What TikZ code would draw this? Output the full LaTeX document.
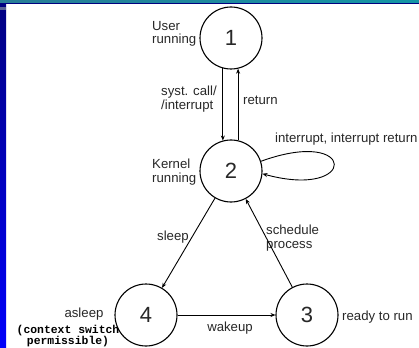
\documentclass[tikz,border=0pt]{standalone}
\usepackage{fontspec}
\setmainfont{Liberation Sans}
\setmonofont{Liberation Mono}
\definecolor{SlideNavy}{RGB}{0,0,128}
\definecolor{SlideBlue}{RGB}{0,0,250}
\definecolor{SlideTealA}{RGB}{40,125,150}
\definecolor{SlideTealB}{RGB}{30,190,205}
\definecolor{SlideTealC}{RGB}{20,150,165}
\definecolor{SlideGrey}{RGB}{90,100,150}
\definecolor{InkGrey}{RGB}{40,40,40}
\usetikzlibrary{arrows.meta, positioning}

\begin{document}
\begin{tikzpicture}[
  x=1pt, y=-1pt,
  state/.style={
    draw=black,
    circle,
    line width=1.1pt,
    minimum size=62pt,
    inner sep=0pt,
    font=\fontsize{22}{22}\selectfont,
    text=InkGrey
  },
  lbl/.style={
    inner sep=0pt,
    align=left,
    font=\fontsize{13.2}{13.5}\selectfont,
    text=InkGrey
  },
  monolbl/.style={
    inner sep=0pt,
    align=center,
    font=\ttfamily\bfseries\fontsize{11.4}{11}\selectfont
  },
  arrow/.style={-{Stealth[length=5pt, width=4pt]}, black, line width=0.9pt}
]

\useasboundingbox (0,0) rectangle (419,347);
\fill[white] (0,0) rectangle (419,347);
\shade[top color=SlideNavy, bottom color=SlideBlue] (0,0) rectangle (6,347);
\shade[left color=SlideTealA, middle color=SlideTealB, right color=SlideTealC] (0,0) rectangle (419,3);
\fill[SlideNavy] (0,3) rectangle (419,4.5);
\fill[SlideGrey] (0,7) rectangle (6,10);

\node[state] (n1) at (231,38) {1};
\node[state] (n2) at (231,171) {2};
\node[state] (n4) at (146,315) {4};
\node[state] (n3) at (307,315) {3};

\node[lbl, anchor=west] (user) at (152,34) {User\\running};
\node[lbl, anchor=west] (kernel) at (152,172) {Kernel\\running};
\node[lbl, anchor=west] (syst) at (161,99) {syst. call/\\/interrupt};
\node[lbl, anchor=west] (ret) at (243,100) {return};
\node[lbl, anchor=west] (intr) at (275,139) {interrupt, interrupt return};
\node[lbl, anchor=west] (sleep) at (157,237) {sleep};
\node[lbl, anchor=west] (sched) at (266,238) {schedule\\process};
\node[lbl] (asleep) at (84,314) {asleep};
\node[monolbl] (ctx) at (68,336) {(context switch\\permissible)};
\node[lbl] (wake) at (230,328) {wakeup};
\node[lbl, anchor=west] (ready) at (342,317) {ready to run};

\draw[arrow] (n1.-105) -- (n2.105);
\draw[arrow] (n2.77) -- (n1.-77);
\draw[arrow] (n2.18) .. controls (358,126) and (358,200) .. (n2.-5);
\draw[arrow] (n2) -- (n4);
\draw[arrow] (n3) -- (n2);
\draw[arrow] (n4) -- (n3);

\end{tikzpicture}
\end{document}
